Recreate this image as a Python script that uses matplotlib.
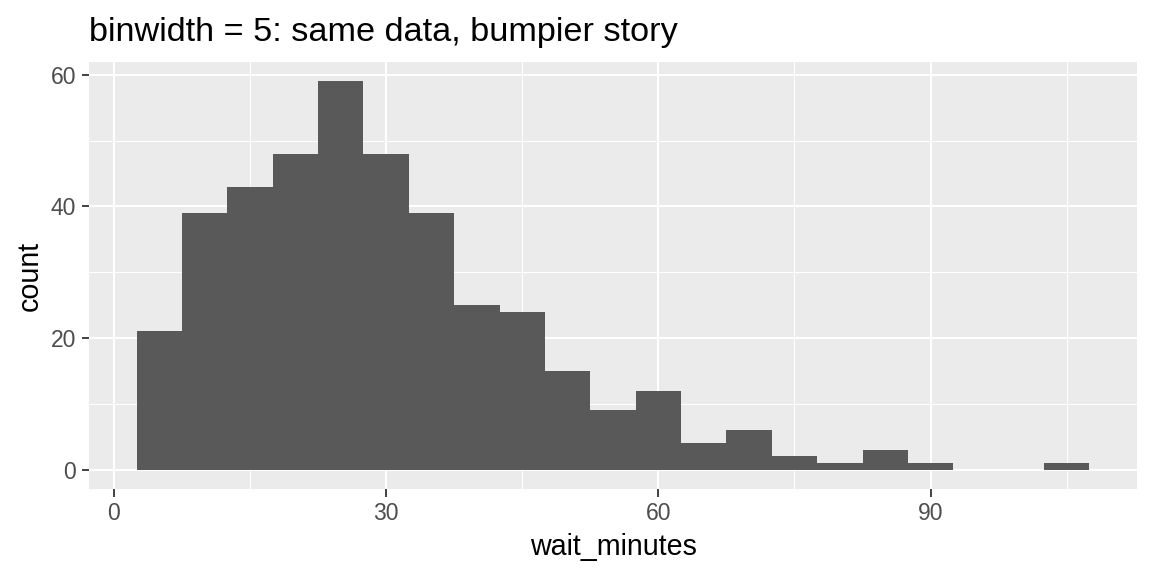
import matplotlib
matplotlib.use("Agg")
import matplotlib.pyplot as plt
from matplotlib.ticker import FixedLocator

plt.rcParams['font.family'] = ['Liberation Sans', 'DejaVu Sans']

# histogram counts, binwidth = 5, bins centred on multiples of 5
bin_centers = [5, 10, 15, 20, 25, 30, 35, 40, 45, 50, 55, 60, 65, 70, 75, 80, 85, 90, 95, 100, 105]
counts = [21, 39, 43, 48, 59, 48, 39, 25, 24, 15, 9, 12, 4, 6, 2, 1, 3, 1, 0, 0, 1]
bin_width = 5

x_major = [0, 30, 60, 90]
x_minor = [15, 45, 75, 105]
y_major = [0, 20, 40, 60]
y_minor = [10, 30, 50]

title = "binwidth = 5: same data, bumpier story"
x_label = "wait_minutes"
y_label = "count"

W, H = 1152, 576
fig = plt.figure(figsize=(W / 100, H / 100), dpi=100)
left, right, top, bottom = 89, 1137, 62, 489
ax = fig.add_axes([left / W, 1 - bottom / H, (right - left) / W, (bottom - top) / H])

ax.set_facecolor("#EBEBEB")
ax.bar(bin_centers, counts, width=bin_width, align="center", color="#595959", linewidth=0, zorder=3)

# ggplot-like expansion of 5%
xlo = bin_centers[0] - bin_width / 2
xhi = bin_centers[-1] + bin_width / 2
xpad = (xhi - xlo) * 0.05
ax.set_xlim(xlo - xpad, xhi + xpad)
ymax = max(counts)
ax.set_ylim(-ymax * 0.05, ymax * 1.05)

ax.xaxis.set_major_locator(FixedLocator(x_major))
ax.xaxis.set_minor_locator(FixedLocator(x_minor))
ax.yaxis.set_major_locator(FixedLocator(y_major))
ax.yaxis.set_minor_locator(FixedLocator(y_minor))

ax.grid(which="major", color="white", linewidth=1.5, zorder=1)
ax.grid(which="minor", color="white", linewidth=0.75, zorder=1)
ax.set_axisbelow(True)

for s in ax.spines.values():
    s.set_visible(False)

ax.tick_params(which="major", length=5.4, width=1.3, color="#333333",
               labelsize=16.5, labelcolor="#4D4D4D", pad=4.0)
ax.tick_params(which="minor", length=0)

ax.set_xlabel(x_label, fontsize=20.6, color="black", labelpad=6)
ax.set_ylabel(y_label, fontsize=20.6, color="black", labelpad=5)

fig.text(left / W, 1 - 41 / H, title, fontsize=24.7, color="black",
         ha="left", va="baseline")

fig.savefig("out.png", dpi=100)
